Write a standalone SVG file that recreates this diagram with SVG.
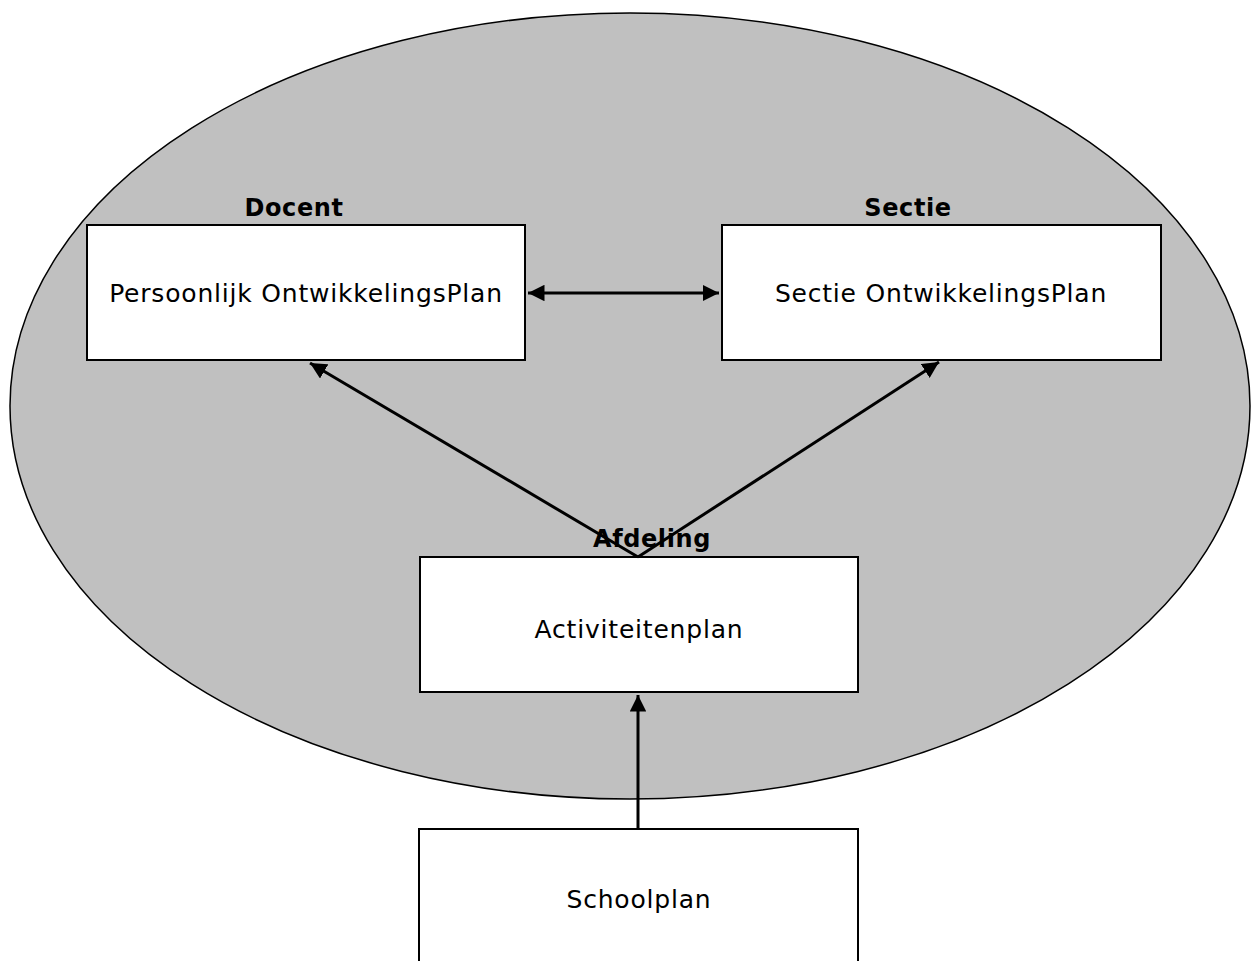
<svg xmlns="http://www.w3.org/2000/svg" width="1251" height="961" viewBox="0 0 1251 961">
<style>
.box{fill:#fff;stroke:#000;stroke-width:2}
.t{font-family:"DejaVu Sans",Verdana,sans-serif;font-size:25px;letter-spacing:0.8px;fill:#000;text-anchor:middle}
.h{font-family:"DejaVu Sans",Verdana,sans-serif;font-size:24px;font-weight:bold;letter-spacing:0.6px;fill:#000;text-anchor:middle}
.c{stroke:#000;stroke-width:3;fill:none}
</style>
<defs>
<marker id="ah" viewBox="0 0 10 10" refX="10" refY="5" markerWidth="5.5" markerHeight="5.5" orient="auto-start-reverse" markerUnits="strokeWidth">
<path d="M0,0 L10,5 L0,10 z" fill="#000"/>
</marker>
</defs>
<g id="ellipse"><ellipse cx="630" cy="406" rx="620" ry="393" fill="#c0c0c0" stroke="#000" stroke-width="1.5"/></g>
<g id="docent">
<rect class="box" x="87" y="225" width="438" height="135"/>
<text class="h" x="294" y="216">Docent</text>
<text class="t" x="306" y="302">Persoonlijk OntwikkelingsPlan</text>
</g>
<g id="sectie">
<rect class="box" x="722" y="225" width="439" height="135"/>
<text class="h" x="908" y="216">Sectie</text>
<text class="t" x="941" y="302">Sectie OntwikkelingsPlan</text>
</g>
<g id="afdeling">
<rect class="box" x="420" y="557" width="438" height="135"/>
<text class="t" x="639" y="638">Activiteitenplan</text>
</g>
<g id="schoolplan">
<rect class="box" x="419" y="829" width="439" height="160"/>
<text class="t" x="639" y="908">Schoolplan</text>
</g>
<g id="connectors">
<line class="c" x1="528" y1="293" x2="719" y2="293" marker-start="url(#ah)" marker-end="url(#ah)"/>
<line class="c" x1="638" y1="557" x2="310" y2="363" marker-end="url(#ah)"/>
<line class="c" x1="638" y1="557" x2="939" y2="362" marker-end="url(#ah)"/>
<line class="c" x1="638" y1="829" x2="638" y2="695" marker-end="url(#ah)"/>
</g>
<text class="h" x="652" y="547">Afdeling</text>
</svg>
